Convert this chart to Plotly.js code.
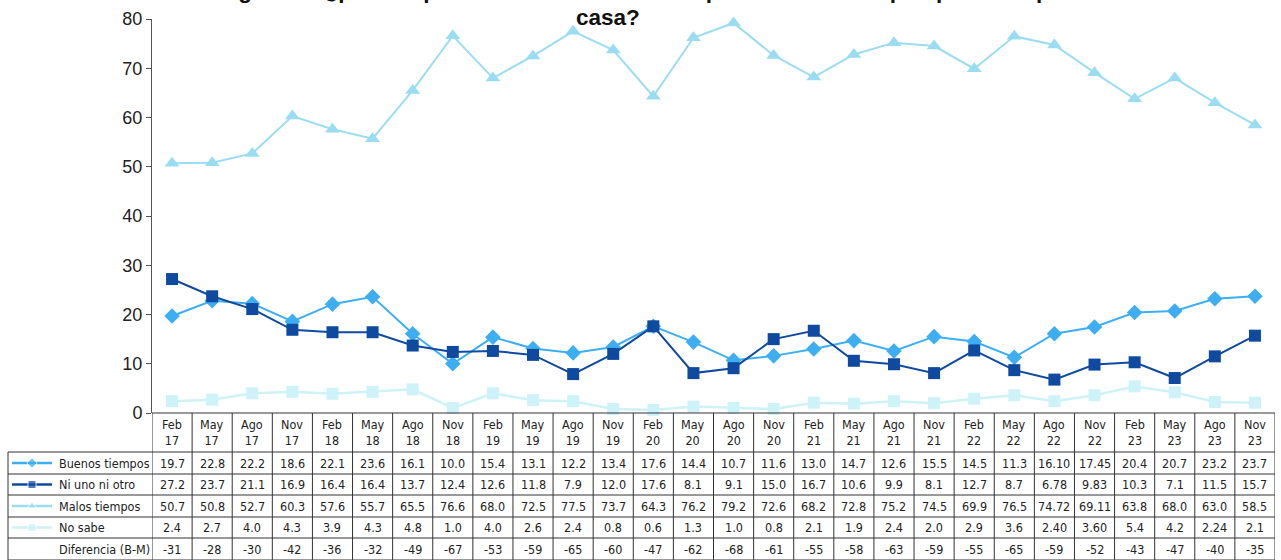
<!DOCTYPE html>
<html>
<head>
<meta charset="utf-8">
<script src="https://cdn.plot.ly/plotly-3.0.1.min.js"></script>
<style>html,body{margin:0;padding:0;background:#fff;}#chart{width:1281px;height:560px;}</style>
</head>
<body>
<div id="chart"></div>
<script>
// ---- data ----
const months = ["Feb","May","Ago","Nov","Feb","May","Ago","Nov","Feb","May","Ago","Nov","Feb","May","Ago","Nov","Feb","May","Ago","Nov","Feb","May","Ago","Nov","Feb","May","Ago","Nov"];
const years = ["17","17","17","17","18","18","18","18","19","19","19","19","20","20","20","20","21","21","21","21","22","22","22","22","23","23","23","23"];
const buenos = ["19.7","22.8","22.2","18.6","22.1","23.6","16.1","10.0","15.4","13.1","12.2","13.4","17.6","14.4","10.7","11.6","13.0","14.7","12.6","15.5","14.5","11.3","16.10","17.45","20.4","20.7","23.2","23.7"];
const niUno = ["27.2","23.7","21.1","16.9","16.4","16.4","13.7","12.4","12.6","11.8","7.9","12.0","17.6","8.1","9.1","15.0","16.7","10.6","9.9","8.1","12.7","8.7","6.78","9.83","10.3","7.1","11.5","15.7"];
const malos = ["50.7","50.8","52.7","60.3","57.6","55.7","65.5","76.6","68.0","72.5","77.5","73.7","64.3","76.2","79.2","72.6","68.2","72.8","75.2","74.5","69.9","76.5","74.72","69.11","63.8","68.0","63.0","58.5"];
const noSabe = ["2.4","2.7","4.0","4.3","3.9","4.3","4.8","1.0","4.0","2.6","2.4","0.8","0.6","1.3","1.0","0.8","2.1","1.9","2.4","2.0","2.9","3.6","2.40","3.60","5.4","4.2","2.24","2.1"];
const diferencia = ["-31","-28","-30","-42","-36","-32","-49","-67","-53","-59","-65","-60","-47","-62","-68","-61","-55","-58","-63","-59","-55","-65","-59","-52","-43","-47","-40","-35"];
const seriesNames = ["Buenos tiempos","Ni uno ni otro","Malos tiempos","No sabe"];
const titleLine1 = "Hablando en general ¿piensa que estos son buenos tiempos o malos tiempos para comprar una";
const titleLine2 = "casa?";

// ---- styles ----
const W = 1281, H = 560;
const plotL = 152, plotR = 1275, plotT = 19, plotB = 413;
const colors = ["#3DAEF2","#0E4AA0","#9ADDF2","#CDF2F8"];
const symbols = ["diamond","square","triangle-up","square"];
const sizes = [12,12,13,12];
const widths = [2,2,2,2.5];
const rowBounds = [413,452,474,495,517,538,560];
const tblFont = {family:"DejaVu Sans Condensed, DejaVu Sans, Verdana, sans-serif", size:12.5, color:"#222"};
const titleFont = {family:"Liberation Sans, Arial, sans-serif", size:22.5, color:"#111", weight:"bold"};

const n = months.length;
const idx = months.map((_, i) => i);
const seriesVals = [buenos, niUno, malos, noSabe];

const traces = seriesVals.map((arr, s) => ({
  type:"scatter", mode:"lines+markers", name:seriesNames[s],
  x: idx, y: arr.map(Number), xaxis:"x", yaxis:"y",
  line:{color:colors[s], width:widths[s]},
  marker:{symbol:symbols[s], size:sizes[s], color:colors[s]},
  cliponaxis:false, hoverinfo:"skip"
}));
// draw order: put "Ni uno" on top
const ordered = [traces[0], traces[2], traces[3], traces[1]];

// legend key markers in the table (pixel overlay axis)
const rowCenters = [];
for (let r = 1; r < rowBounds.length - 1; r++) rowCenters.push((rowBounds[r] + rowBounds[r+1]) / 2);
for (let s = 0; s < 4; s++) {
  ordered.push({
    type:"scatter", mode:"lines+markers", x:[12,32,52], y:[rowCenters[s],rowCenters[s],rowCenters[s]],
    xaxis:"x2", yaxis:"y2", showlegend:false, hoverinfo:"skip", cliponaxis:false,
    line:{color:colors[s], width:2.5},
    marker:{symbol:symbols[s], size:[0,8,0], color:colors[s]}
  });
}

const shapes = [];
const lineStyle = {color:"#333", width:1};
shapes.push({type:"line", xref:"x", yref:"y2", x0:-0.5, x1:n-0.5, y0:rowBounds[0], y1:rowBounds[0], line:lineStyle});
for (let r = 1; r < rowBounds.length; r++) {
  shapes.push({type:"line", xref:"x2", yref:"y2", x0:8, x1:plotR, y0:rowBounds[r], y1:rowBounds[r], line:lineStyle});
}
for (let k = 0; k <= n; k++) {
  shapes.push({type:"line", xref:"x", yref:"y2", x0:k-0.5, x1:k-0.5, y0:rowBounds[0], y1:H, line:lineStyle});
}
shapes.push({type:"line", xref:"x2", yref:"y2", x0:8, x1:8, y0:rowBounds[1], y1:H, line:lineStyle});

const annotations = [];
for (let i = 0; i < n; i++) {
  annotations.push({xref:"x", yref:"y2", x:i, y:(rowBounds[0]+rowBounds[1])/2, text:months[i]+"<br>"+years[i],
    showarrow:false, font:tblFont, xanchor:"center", yanchor:"middle"});
}
const tableRows = [buenos, niUno, malos, noSabe, diferencia];
const rowLabels = seriesNames.concat(["Diferencia (B-M)"]);
tableRows.forEach((arr, r) => {
  const yc = (rowBounds[r+1] + rowBounds[r+2]) / 2;
  annotations.push({xref:"x2", yref:"y2", x:57, y:yc, text:rowLabels[r], showarrow:false, font:tblFont, xanchor:"left", yanchor:"middle"});
  arr.forEach((v, i) => {
    annotations.push({xref:"x", yref:"y2", x:i, y:yc, text:v, showarrow:false, font:tblFont, xanchor:"center", yanchor:"middle"});
  });
});
// title (first line partly above the page, as in the reference)
annotations.push({xref:"x2", yref:"y2", x:611, y:5, text:titleLine1, showarrow:false,
  xanchor:"center", yanchor:"bottom", font:titleFont});
annotations.push({xref:"x2", yref:"y2", x:608, y:32, text:titleLine2, showarrow:false,
  xanchor:"center", yanchor:"bottom", font:titleFont});

const layout = {
  width:W, height:H, margin:{l:0,r:0,t:0,b:0},
  paper_bgcolor:"#fff", plot_bgcolor:"rgba(0,0,0,0)", showlegend:false,
  font:{family:"Liberation Sans, Arial, sans-serif"},
  xaxis:{domain:[plotL/W, plotR/W], range:[-0.5, n-0.5], visible:false, fixedrange:true},
  yaxis:{domain:[(H-plotB)/H, (H-plotT)/H], range:[0,80], dtick:10, showgrid:false, zeroline:false,
         showline:true, linecolor:"#555", linewidth:1, ticks:"outside", ticklen:5, tickcolor:"#555",
         tickfont:{size:18, color:"#222", family:"Liberation Sans, Arial, sans-serif"}, automargin:false, fixedrange:true},
  xaxis2:{domain:[0,1], range:[0,W], visible:false, anchor:"y2", fixedrange:true},
  yaxis2:{domain:[0,1], range:[H,0], visible:false, anchor:"x2", fixedrange:true},
  shapes:shapes, annotations:annotations
};

Plotly.newPlot("chart", ordered, layout, {displayModeBar:false, staticPlot:true});
</script>
</body>
</html>
